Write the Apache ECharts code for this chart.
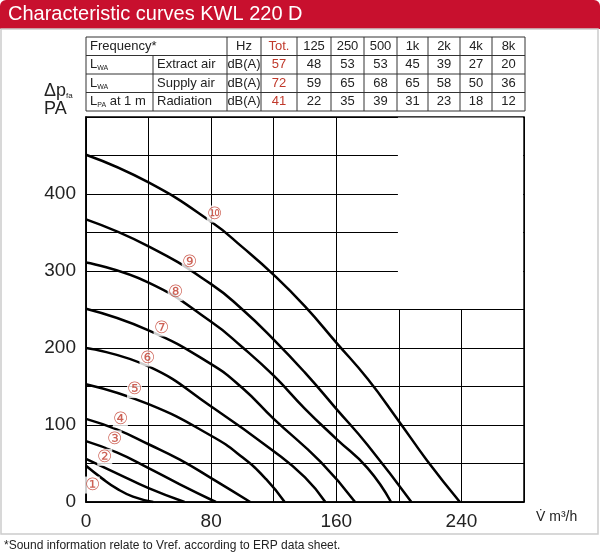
<!DOCTYPE html>
<html>
<head>
<meta charset="utf-8">
<script src="https://cdn.jsdelivr.net/npm/echarts@6/dist/echarts.min.js"></script>
<style>
  html, body { margin: 0; padding: 0; background: #fff; }
  #chart { width: 600px; height: 556px; }
</style>
</head>
<body>
<div id="chart"></div>
<script>
// curve data (flow m3/h, pressure Pa)
var c1 = [[0, 47], [10, 31], [20, 17], [30, 7], [43, 0]];
var c2 = [[0, 56], [20, 37], [40, 18], [63, 0]];
var c3 = [[0, 79], [20, 64], [40, 44], [60, 23], [83, 0]];
var c4 = [[0, 108], [20, 94], [40, 75], [60, 55], [80, 31], [105, 0]];
var c5 = [[0, 153], [40, 127], [80, 86], [100, 58], [115, 30], [127, 0]];
var c6 = [[0, 200], [40, 176], [80, 124], [120, 66], [140, 32], [153, 0]];
var c7 = [[0, 251], [40, 223], [80, 179], [100, 148], [120, 108], [150, 52], [172, 0]];
var c8 = [[0, 311], [40, 285], [80, 234], [100, 201], [120, 164], [140, 121], [160, 82], [180, 44], [195, 0]];
var c9 = [[0, 367], [40, 332], [80, 283], [100, 250], [120, 211], [140, 168], [160, 121], [180, 74], [208, 0]];
var c10 = [[0, 451], [40, 415], [80, 364], [100, 331], [120, 295], [140, 254], [160, 207], [180, 160], [200, 105], [218, 54], [239, 0]];
var curves = [c1, c2, c3, c4, c5, c6, c7, c8, c9, c10];

var curveMarks = ['①', '②', '③', '④', '⑤', '⑥', '⑦', '⑧', '⑨', '⑩'];
var markPos = [[4, 22], [12, 58], [18, 82], [22, 108], [31, 146], [39, 187], [48, 226], [57, 272], [66, 311], [82, 374]];
var legendText = ['10%', '20%', '30%', '40%', '50%', '60%', '70%', '80%', '90%', '100%'];

// sound table
var tableHead = ['Frequency*', '', 'Hz', 'Tot.', '125', '250', '500', '1k', '2k', '4k', '8k'];
var rowLabels = [['L', 'WA', 'Extract air'], ['L', 'WA', 'Supply air'], ['L', 'PA', ' at 1 m', 'Radiation']];
var extractAir = [57, 48, 53, 53, 45, 39, 27, 20];
var supplyAir = [72, 59, 65, 68, 65, 58, 50, 36];
var radiation = [41, 22, 35, 39, 31, 23, 18, 12];

var font = '"Liberation Sans Narrow", "Liberation Sans", Arial, sans-serif';
var red = '#c0392b';
var chart = echarts.init(document.getElementById('chart'));

// table graphics
var colX = [86, 153, 227, 261, 297, 331, 364, 397, 428, 460, 492, 525];
var rowY = [37, 55.5, 74, 92.5, 111];
var g = [];
g.push({ type: 'rect', shape: { x: 0, y: 0, width: 600, height: 29, r: [6, 6, 0, 0] }, style: { fill: '#c8102e' } });
g.push({ type: 'text', x: 8, y: 4, style: { text: 'Characteristic curves KWL 220 D', fill: '#fff', font: '20px ' + font } });
g.push({ type: 'rect', shape: { x: 1, y: 29, width: 597, height: 505 }, style: { fill: 'none', stroke: '#ccc', lineWidth: 1.5 } });
for (var r = 0; r < rowY.length; r++) {
  g.push({ type: 'line', shape: { x1: colX[0], y1: rowY[r], x2: colX[11], y2: rowY[r] }, style: { stroke: '#333', lineWidth: 1 } });
}
for (var c = 0; c < colX.length; c++) {
  var y1 = (c === 1) ? rowY[1] : rowY[0];
  g.push({ type: 'line', shape: { x1: colX[c], y1: y1, x2: colX[c], y2: rowY[4] }, style: { stroke: '#333', lineWidth: 1 } });
}
function cell(txt, ci, ri, color, left) {
  g.push({ type: 'text', x: left ? colX[ci] + 4 : (colX[ci] + colX[ci + 1]) / 2, y: (rowY[ri] + rowY[ri + 1]) / 2,
    style: { text: txt, fill: color || '#222', font: '13px ' + font, align: left ? 'left' : 'center', verticalAlign: 'middle' } });
}
cell(tableHead[0], 0, 0, null, true);
for (var i = 2; i < tableHead.length; i++) cell(tableHead[i], i, 0, i === 3 ? red : null);
var rows = [extractAir, supplyAir, radiation];
for (var ri = 0; ri < 3; ri++) {
  var lab = rowLabels[ri];
  g.push({ type: 'text', x: colX[0] + 4, y: (rowY[ri + 1] + rowY[ri + 2]) / 2, style: {
    text: '{a|' + lab[0] + '}{s|' + lab[1] + '}' + (lab.length > 3 ? '{a|' + lab[2] + '}' : ''),
    verticalAlign: 'middle', rich: { a: { font: '13px ' + font, fill: '#222' }, s: { font: '7px ' + font, fill: '#222', padding: [7, 0, 0, 0] } } } });
  cell(lab[lab.length - 1], 1, ri + 1, null, true);
  cell('dB(A)', 2, ri + 1);
  for (var k = 0; k < rows[ri].length; k++) cell(String(rows[ri][k]), k + 3, ri + 1, k === 0 ? red : null);
}
// y axis title
g.push({ type: 'text', x: 44, y: 82, style: { text: '{a|Δp}{s|fa}', rich: { a: { font: '18px ' + font, fill: '#222' }, s: { font: '8px ' + font, fill: '#222', padding: [10, 0, 0, 0] } } } });
g.push({ type: 'text', x: 44, y: 100, style: { text: 'PA', font: '18px ' + font, fill: '#222' } });
// legend
for (var li = 0; li < 10; li++) {
  g.push({ type: 'text', x: 428, y: 135 + li * 15.8, style: { text: curveMarks[li], font: '15px ' + font, fill: red } });
  g.push({ type: 'text', x: 462, y: 136 + li * 15.8, style: { text: legendText[li], font: '14px ' + font, fill: '#222' } });
}
g.push({ type: 'text', x: 4, y: 540, style: { text: '*Sound information relate to Vref. according to ERP data sheet.', font: '12px ' + font, fill: '#222' } });

var series = curves.map(function (d, idx) {
  var s = { type: 'line', data: d, smooth: 0.5, symbol: 'none', lineStyle: { color: '#000', width: 2.5 }, z: 3 };
  if (idx === 0) {
    s.markArea = { silent: true, itemStyle: { color: '#fff', opacity: 1 },
      data: [[{ coord: [199.4, 250.5] }, { coord: [279.4, 499.4] }]] };
  }
  return s;
});
series.push({
  type: 'scatter', symbolSize: 0, z: 4,
  data: markPos.map(function (p, i) { return { value: p, name: curveMarks[i] }; }),
  label: { show: true, formatter: '{b}', color: red, fontSize: 17, fontFamily: font, backgroundColor: '#fff' }
});

chart.setOption({
  animation: false,
  graphic: g,
  grid: { left: 86, right: 76, top: 117, bottom: 54, show: true, borderColor: '#000', borderWidth: 1.5 },
  xAxis: {
    type: 'value', min: 0, max: 280, interval: 40,
    name: 'V̇ m³/h', nameLocation: 'end', nameGap: 12, nameTextStyle: { fontSize: 14, fontFamily: font, color: '#222', verticalAlign: 'top', padding: [8, 0, 0, 0] },
    axisLine: { lineStyle: { color: '#000', width: 1.5 } }, axisTick: { show: false },
    axisLabel: { fontSize: 19, color: '#222', fontFamily: font, margin: 10, formatter: function (v) { return (v % 80 === 0 && v < 280) ? v : ''; } },
    splitLine: { lineStyle: { color: '#000', width: 1 } }
  },
  yAxis: {
    type: 'value', min: 0, max: 500, interval: 50,
    axisLine: { lineStyle: { color: '#000', width: 1.5 } }, axisTick: { show: false },
    axisLabel: { fontSize: 19, color: '#222', fontFamily: font, margin: 10, formatter: function (v) { return (v % 100 === 0 && v < 500) ? v : ''; } },
    splitLine: { lineStyle: { color: '#000', width: 1 } }
  },
  series: series
});
</script>
</body>
</html>
